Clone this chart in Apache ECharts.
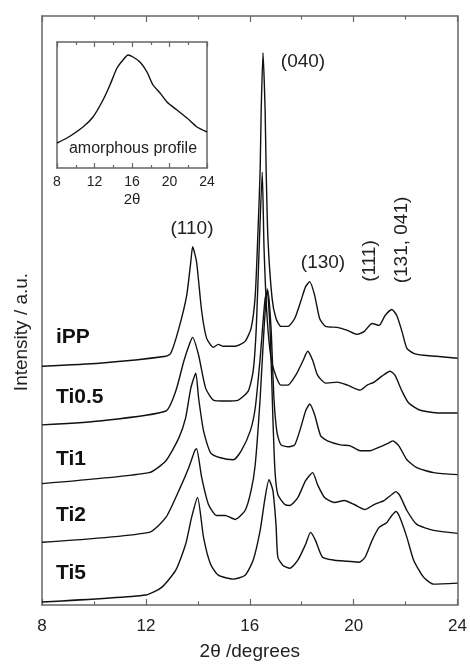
<!DOCTYPE html>
<html><head><meta charset="utf-8">
<script src="https://cdn.jsdelivr.net/npm/echarts@6/dist/echarts.min.js"></script>
<style>html,body{margin:0;padding:0;background:#fff}#c{width:470px;height:666px}</style>
</head><body><div id="c"></div>
<script>
// ---- data (2θ in degrees, intensity in arbitrary units, already vertically offset) ----
const xTicks = [8, 12, 16, 20, 24];
const sampleNames = ['iPP', 'Ti0.5', 'Ti1', 'Ti2', 'Ti5'];
const peakNames = ['(110)', '(040)', '(130)', '(111)', '(131, 041)'];

const iPP_x = [8.00,10.21,12.77,12.96,13.27,13.57,13.73,13.80,13.95,14.15,14.34,14.60,14.79,14.98,15.44,15.82,16.05,16.21,16.32,16.40,16.44,16.51,16.59,16.63,16.70,16.86,17.01,17.20,17.47,17.73,17.96,18.15,18.31,18.50,18.69,18.92,19.37,19.76,20.14,20.41,20.71,20.98,21.21,21.47,21.66,21.86,22.05,22.31,22.69,23.19,24.00];
const iPP_y = [240,243,250,253,278,311,345,360,345,295,268,259,262,260,260,265,278,311,378,438,498,555,498,438,368,308,288,280,280,288,305,320,325,311,288,280,279,276,272,275,283,281,291,297,291,275,258,253,251,250,248];

const Ti05_x = [8.00,10.21,12.77,13.15,13.46,13.69,13.80,14.03,14.30,14.60,15.06,15.56,15.94,16.13,16.25,16.36,16.48,16.55,16.67,16.82,17.01,17.20,17.47,17.77,18.04,18.23,18.42,18.61,18.92,19.37,19.76,20.25,20.52,20.79,21.09,21.40,21.59,21.86,22.12,22.54,23.31,24.00];
const Ti05_y = [181,185,195,215,245,263,269,251,218,206,205,206,215,235,278,358,435,358,288,248,230,221,221,231,245,255,246,231,223,224,221,216,221,224,230,235,231,215,203,196,193,193];

const Ti1_x = [8.00,12.12,12.77,13.27,13.53,13.73,13.92,14.03,14.22,14.49,14.87,15.37,15.67,16.02,16.21,16.40,16.59,16.70,16.82,16.93,17.05,17.20,17.47,17.73,17.96,18.15,18.31,18.50,18.73,18.99,19.49,19.87,20.25,20.63,21.02,21.36,21.51,21.74,22.05,22.43,23.08,24.00];
const Ti1_y = [122,133,145,168,188,218,233,208,175,153,148,146,155,175,198,248,308,316,278,208,173,161,159,161,178,195,202,191,170,165,161,160,155,155,159,163,165,160,146,138,133,131];

const Ti2_x = [8.00,12.12,12.77,13.27,13.65,13.88,13.95,14.15,14.41,14.72,15.06,15.25,15.44,15.82,16.05,16.21,16.40,16.55,16.67,16.78,16.89,16.97,17.08,17.35,17.54,17.85,18.15,18.42,18.61,18.88,19.26,19.64,20.02,20.44,20.79,21.17,21.47,21.63,21.78,22.05,22.43,23.08,24.00];
const Ti2_y = [63,73,88,115,138,155,157,128,101,90,90,88,86,95,115,141,208,278,318,278,188,135,111,101,100,108,125,133,121,108,103,105,101,96,101,105,111,114,110,95,81,75,72];

const Ti5_x = [8.00,12.01,12.62,13.15,13.53,13.76,13.99,14.22,14.49,14.79,15.37,15.82,16.13,16.40,16.59,16.74,16.89,17.01,17.08,17.27,17.54,17.85,18.15,18.34,18.53,18.80,19.26,19.76,20.21,20.44,20.71,20.98,21.28,21.47,21.63,21.78,22.05,22.31,22.69,23.08,24.00];
const Ti5_y = [3,10,18,35,61,88,108,68,41,30,26,30,45,75,108,126,115,81,48,40,37,45,61,73,65,48,45,44,43,48,65,78,83,90,94,88,68,45,28,21,22];

const amorph_x = [8.0,9.07,10.77,11.84,12.91,13.65,14.40,15.04,15.57,16.11,16.85,17.60,18.24,18.99,19.73,20.80,21.87,22.93,24.0];
const amorph_y = [25,30,41,51,68,83,100,108,113,111,106,96,83,75,66,58,50,41,36];

// ---- chart ----
const FONT = "'Liberation Sans', Arial, sans-serif";
const AX = '#666';
const pairs = (xs, ys) => xs.map((x, i) => [x, ys[i]]);
const chart = echarts.init(document.getElementById('c'));

function xAx(grid, pos, showLabel, fs, margin, tickLen, name, nameGap, nameFs) {
  return {
    gridIndex: grid, type: 'value', position: pos, min: xTicks[0], max: xTicks[xTicks.length-1], interval: xTicks[1]-xTicks[0],
    axisLine: {show: true, onZero: false, lineStyle: {color: AX, width: 1.5}},
    axisTick: {show: true, inside: true, length: tickLen, lineStyle: {color: AX, width: 1.2}},
    minorTick: {show: true, splitNumber: 2, length: tickLen*0.6, lineStyle: {color: AX, width: 1.2}},
    splitLine: {show: false}, minorSplitLine: {show: false},
    axisLabel: {show: showLabel, color: '#222', fontSize: fs, fontFamily: FONT, margin: margin},
    name: name || '', nameLocation: 'middle', nameGap: nameGap || 0,
    nameTextStyle: {color: '#222', fontSize: nameFs || 14, fontFamily: FONT}
  };
}
function yAx(grid, pos, max) {
  return {
    gridIndex: grid, type: 'value', position: pos, min: 0, max: max,
    axisLine: {show: true, onZero: false, lineStyle: {color: AX, width: 1.5}},
    axisTick: {show: false}, axisLabel: {show: false}, splitLine: {show: false}
  };
}
function line(name, xs, ys, xi, yi) {
  return {
    name: name, type: 'line', xAxisIndex: xi, yAxisIndex: yi, data: pairs(xs, ys),
    showSymbol: false, smooth: 0.2, lineStyle: {color: '#111', width: 1.4}, silent: true
  };
}
const T = (text, x, y, fs, opts) => Object.assign({
  type: 'text', x: x, y: y,
  style: Object.assign({text: text, fill: '#222', fontSize: fs, fontFamily: FONT, align: 'center', verticalAlign: 'middle'}, (opts && opts.style) || {})
}, opts && opts.rotation ? {rotation: opts.rotation} : {});

chart.setOption({
  animation: false,
  backgroundColor: '#fff',
  grid: [
    {left: 42, top: 16, width: 419, height: 592},
    {left: 57, top: 42, width: 150, height: 126}
  ],
  xAxis: [
    xAx(0, 'bottom', true, 17, 13, 6, '2θ /degrees', 37, 19),
    xAx(0, 'top', false, 17, 8, 6),
    xAx(1, 'bottom', true, 14, 7, 5, '2θ', 24, 15),
    xAx(1, 'top', false, 14, 7, 5)
  ],
  yAxis: [yAx(0, 'left', 592), yAx(0, 'right', 592), yAx(1, 'left', 126), yAx(1, 'right', 126)],
  series: [
    line(sampleNames[0], iPP_x, iPP_y, 0, 0),
    line(sampleNames[1], Ti05_x, Ti05_y, 0, 0),
    line(sampleNames[2], Ti1_x, Ti1_y, 0, 0),
    line(sampleNames[3], Ti2_x, Ti2_y, 0, 0),
    line(sampleNames[4], Ti5_x, Ti5_y, 0, 0),
    line('amorphous profile', amorph_x, amorph_y, 2, 2)
  ],
  graphic: [
    T('Intensity / a.u.', 22, 332, 19, {rotation: Math.PI/2}),
    T('amorphous profile', 133, 149, 16),
    T(peakNames[0], 192, 229, 19),
    T(peakNames[1], 303, 62, 19),
    T(peakNames[2], 323, 263, 19),
    T(peakNames[3], 370, 261, 19, {rotation: Math.PI/2}),
    T(peakNames[4], 402, 240, 19, {rotation: Math.PI/2}),
    T(sampleNames[0], 56, 337, 21, {style: {align: 'left', fontWeight: 'bold', fill: '#111'}}),
    T(sampleNames[1], 56, 397, 21, {style: {align: 'left', fontWeight: 'bold', fill: '#111'}}),
    T(sampleNames[2], 56, 459, 21, {style: {align: 'left', fontWeight: 'bold', fill: '#111'}}),
    T(sampleNames[3], 56, 515, 21, {style: {align: 'left', fontWeight: 'bold', fill: '#111'}}),
    T(sampleNames[4], 56, 573, 21, {style: {align: 'left', fontWeight: 'bold', fill: '#111'}})
  ]
});
</script>
</body></html>
